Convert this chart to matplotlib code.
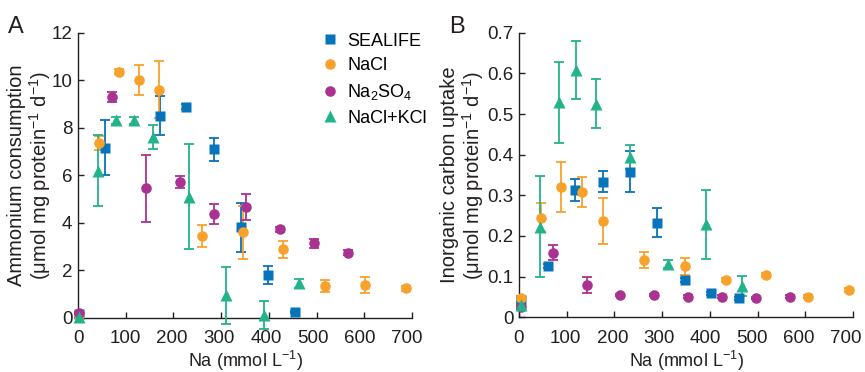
import matplotlib
matplotlib.use("Agg")
import matplotlib.pyplot as plt
from matplotlib.transforms import ScaledTranslation

plt.rcParams['font.family'] = ['Liberation Sans', 'DejaVu Sans']
plt.rcParams['mathtext.fontset'] = 'custom'
plt.rcParams['mathtext.rm'] = 'Liberation Sans'
plt.rcParams['mathtext.it'] = 'Liberation Sans:italic'
plt.rcParams['mathtext.bf'] = 'Liberation Sans:bold'

series_names = ['SEALIFE', 'NaCl', 'Na$_2$SO$_4$', 'NaCl+KCl']
colors = ['#0773BB', '#F8A12B', '#AA3391', '#23B38A']
markers = ['s', 'o', 'o', '^']
msizes = [7.2, 7.6, 7.6, 8.6]

# Panel A: ammonium consumption
a_sealife_x = [3, 56, 171, 227, 285, 341, 399, 455]
a_sealife_y = [0.15, 7.16, 8.5, 8.88, 7.09, 3.8, 1.8, 0.25]
a_sealife_e = [0.05, 1.15, 0.82, 0.1, 0.48, 1.03, 0.38, 0.05]

a_nacl_x = [3, 43, 86, 128, 170, 260, 345, 430, 518, 602, 688]
a_nacl_y = [0.1, 7.37, 10.36, 10.0, 9.59, 3.44, 3.59, 2.88, 1.35, 1.38, 1.24]
a_nacl_e = [0.05, 0.3, 0.1, 0.62, 1.2, 0.47, 1.1, 0.35, 0.25, 0.32, 0.1]

a_na2so4_x = [3, 71, 142, 213, 285, 353, 423, 495, 565]
a_na2so4_y = [0.18, 9.3, 5.45, 5.71, 4.37, 4.67, 3.72, 3.13, 2.74]
a_na2so4_e = [0.05, 0.2, 1.4, 0.25, 0.43, 0.55, 0.12, 0.2, 0.1]

a_naclkcl_x = [3, 41, 79, 117, 157, 233, 311, 389, 464]
a_naclkcl_y = [0.04, 6.19, 8.32, 8.32, 7.62, 5.1, 0.95, 0.11, 1.45]
a_naclkcl_e = [0.05, 1.5, 0.15, 0.15, 0.5, 2.2, 1.2, 0.6, 0.2]

# Panel B: inorganic carbon uptake
b_sealife_x = [5, 61, 117, 175, 232, 289, 347, 403, 461]
b_sealife_y = [0.043, 0.127, 0.313, 0.333, 0.358, 0.233, 0.092, 0.059, 0.047]
b_sealife_e = [0.005, 0.005, 0.027, 0.026, 0.05, 0.036, 0.005, 0.004, 0.004]

b_nacl_x = [4, 47, 89, 133, 175, 261, 347, 433, 518, 606, 692]
b_nacl_y = [0.047, 0.245, 0.321, 0.308, 0.237, 0.141, 0.126, 0.092, 0.104, 0.051, 0.067]
b_nacl_e = [0.005, 0.035, 0.062, 0.037, 0.056, 0.02, 0.021, 0.004, 0.004, 0.004, 0.004]

b_na2so4_x = [5, 72, 143, 212, 282, 354, 426, 497, 568]
b_na2so4_y = [0.026, 0.159, 0.079, 0.055, 0.055, 0.051, 0.051, 0.047, 0.051]
b_na2so4_e = [0.005, 0.018, 0.02, 0.003, 0.003, 0.003, 0.003, 0.003, 0.003]

b_naclkcl_x = [5, 45, 84, 119, 161, 233, 312, 391, 468]
b_naclkcl_y = [0.03, 0.223, 0.529, 0.609, 0.525, 0.394, 0.131, 0.229, 0.077]
b_naclkcl_e = [0.005, 0.125, 0.1, 0.071, 0.06, 0.03, 0.01, 0.085, 0.025]

x_ticks = [0, 100, 200, 300, 400, 500, 600, 700]
a_yticks = [0, 2, 4, 6, 8, 10, 12]
b_yticks = [0, 0.1, 0.2, 0.3, 0.4, 0.5, 0.6, 0.7]
b_yticklabels = ['0', '0.1', '0.2', '0.3', '0.4', '0.5', '0.6', '0.7']

FS_TICK = 13.5
FS_XLAB = 13
FS_YLAB = 14.5
TXT = '#231F20'

fig = plt.figure(figsize=(8.65, 3.72), dpi=100)
axA = fig.add_axes([78/865, 1-317.7/372, 334/865, 285/372])
axB = fig.add_axes([519/865, 1-317.3/372, 334/865, 284.6/372])

a_data = [(a_sealife_x, a_sealife_y, a_sealife_e), (a_nacl_x, a_nacl_y, a_nacl_e),
          (a_na2so4_x, a_na2so4_y, a_na2so4_e), (a_naclkcl_x, a_naclkcl_y, a_naclkcl_e)]
b_data = [(b_sealife_x, b_sealife_y, b_sealife_e), (b_nacl_x, b_nacl_y, b_nacl_e),
          (b_na2so4_x, b_na2so4_y, b_na2so4_e), (b_naclkcl_x, b_naclkcl_y, b_naclkcl_e)]

for ax, data in ((axA, a_data), (axB, b_data)):
    for (x, y, e), name, c, m, ms in zip(data, series_names, colors, markers, msizes):
        cont = ax.errorbar(x, y, yerr=e, fmt=m, color=c, ms=ms, mec='none',
                           elinewidth=1.3, capsize=3.6, capthick=1.3,
                           clip_on=False, label=name, zorder=3)
        for child in cont.get_children():
            child.set_clip_on(False)
    ax.set_xlim(0, 700)
    ax.set_xticks(x_ticks)
    ax.spines['top'].set_visible(False)
    ax.spines['right'].set_visible(False)
    for s in ('left', 'bottom'):
        ax.spines[s].set_color(TXT)
        ax.spines[s].set_linewidth(1.0)
    ax.tick_params(direction='in', length=4, width=1.0, color=TXT,
                   labelsize=FS_TICK, labelcolor=TXT, pad=4)
    ax.tick_params(axis='x', pad=9)
    ax.set_xlabel('Na (mmol L$^{-1}$)', fontsize=FS_XLAB, color=TXT, labelpad=1.5)

axA.set_ylim(0, 12)
axA.set_yticks(a_yticks)
axA.set_ylabel('Ammonium consumption\n(μmol mg protein$^{-1}$ d$^{-1}$)',
               fontsize=FS_YLAB, color=TXT, linespacing=1.05)
axA.yaxis.set_label_coords(-0.074, 0.5)
axB.set_ylim(0, 0.7)
axB.set_yticks(b_yticks)
axB.set_yticklabels(b_yticklabels)
axB.set_ylabel('Inorganic carbon uptake\n(μmol mg protein$^{-1}$ d$^{-1}$)',
               fontsize=FS_YLAB, color=TXT, linespacing=1.05)
axB.yaxis.set_label_coords(-0.100, 0.5)

handles, labels = axA.get_legend_handles_labels()
handles = [h[0] for h in handles]
axA.legend(handles, labels, loc='upper left', bbox_to_anchor=(0.712, 1.025),
           frameon=False, fontsize=FS_XLAB, handlelength=0.8, handletextpad=0.55,
           labelspacing=0.42, borderaxespad=0)

fig.text(8/865, 1-33/372, 'A', fontsize=17, color=TXT)
fig.text(449/865, 1-33/372, 'B', fontsize=17, color=TXT)

# tick labels in the reference sit slightly left of their ticks, more so to the right
fig.canvas.draw()
for ax, shift_px in ((axA, 5.0), (axB, 7.5)):
    for tick in ax.xaxis.get_major_ticks():
        v = tick.get_loc()
        dx = -shift_px * (v / 700.0) / fig.dpi
        base = ax.get_xaxis_text1_transform(9)[0]
        tick.label1.set_transform(base + ScaledTranslation(dx, 0, fig.dpi_scale_trans))

fig.savefig('out.png', dpi=100)
